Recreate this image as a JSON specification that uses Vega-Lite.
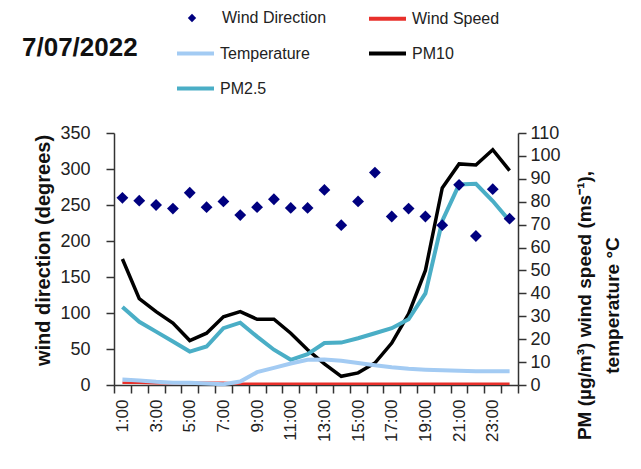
{
  "$schema": "https://vega.github.io/schema/vega-lite/v6.json",
  "width": 404,
  "height": 252,
  "autosize": {"type": "none"},
  "padding": {"left": 114, "top": 133, "right": 123, "bottom": 84},
  "background": "white",
  "config": {"font": "Liberation Sans", "view": {"stroke": null}},
  "title": {"text": "7/07/2022", "anchor": "start", "frame": "group", "dx": -92, "offset": -63, "fontSize": 26, "fontWeight": "bold", "color": "#111", "font": "Liberation Sans"},
  "data": {"values": [
    {"hour": "1:00", "wd": 260, "ws": 1, "temp": 2.4, "pm10": 55, "pm25": 34},
    {"hour": "2:00", "wd": 256, "ws": 1, "temp": 2, "pm10": 37.7, "pm25": 27.6},
    {"hour": "3:00", "wd": 250, "ws": 0.8, "temp": 1.4, "pm10": 32, "pm25": 23.3},
    {"hour": "4:00", "wd": 245, "ws": 0.8, "temp": 1, "pm10": 27, "pm25": 19},
    {"hour": "5:00", "wd": 267, "ws": 1, "temp": 1, "pm10": 19.4, "pm25": 14.6},
    {"hour": "6:00", "wd": 247, "ws": 1, "temp": 0.7, "pm10": 22.6, "pm25": 16.8},
    {"hour": "7:00", "wd": 255, "ws": 1, "temp": 0.3, "pm10": 29.8, "pm25": 24.8},
    {"hour": "8:00", "wd": 236, "ws": 0.5, "temp": 1.5, "pm10": 32, "pm25": 27.2},
    {"hour": "9:00", "wd": 247, "ws": 0.5, "temp": 5.6, "pm10": 28.7, "pm25": 21.1},
    {"hour": "10:00", "wd": 258, "ws": 0.5, "temp": 7.5, "pm10": 28.7, "pm25": 15.4},
    {"hour": "11:00", "wd": 246, "ws": 0.5, "temp": 9.4, "pm10": 22.6, "pm25": 11},
    {"hour": "12:00", "wd": 246, "ws": 0.5, "temp": 11, "pm10": 15.4, "pm25": 13.5},
    {"hour": "13:00", "wd": 271, "ws": 0.5, "temp": 11.1, "pm10": 9.2, "pm25": 18.3},
    {"hour": "14:00", "wd": 222, "ws": 0.5, "temp": 10.6, "pm10": 3.8, "pm25": 18.5},
    {"hour": "15:00", "wd": 255, "ws": 0.5, "temp": 9.6, "pm10": 5.3, "pm25": 20.4},
    {"hour": "16:00", "wd": 295, "ws": 0.5, "temp": 8.6, "pm10": 9.6, "pm25": 22.6},
    {"hour": "17:00", "wd": 234, "ws": 0.5, "temp": 7.7, "pm10": 18.3, "pm25": 24.8},
    {"hour": "18:00", "wd": 245, "ws": 0.5, "temp": 7.1, "pm10": 31, "pm25": 28.7},
    {"hour": "19:00", "wd": 234, "ws": 0.5, "temp": 6.7, "pm10": 50, "pm25": 40},
    {"hour": "20:00", "wd": 222, "ws": 0.5, "temp": 6.4, "pm10": 86, "pm25": 71.6},
    {"hour": "21:00", "wd": 278, "ws": 0.5, "temp": 6.2, "pm10": 96.5, "pm25": 87.5},
    {"hour": "22:00", "wd": 207, "ws": 0.5, "temp": 6, "pm10": 96, "pm25": 87.8},
    {"hour": "23:00", "wd": 272, "ws": 0.5, "temp": 6, "pm10": 102.7, "pm25": 80.3},
    {"hour": "24:00", "wd": 231, "ws": 0.5, "temp": 6, "pm10": 93.6, "pm25": 71.6}
  ]},
  "encoding": {
    "x": {
      "field": "hour", "type": "ordinal", "sort": null,
      "scale": {"type": "band", "paddingInner": 0, "paddingOuter": 0},
      "axis": {
        "title": null, "tickBand": "extent", "labelAngle": 270,
        "labelExpr": "toNumber(split(datum.value, ':')[0]) % 2 == 1 ? datum.value : ''",
        "labelFontSize": 17, "labelColor": "#222", "tickSize": 8, "labelPadding": 6,
        "domainColor": "#333", "tickColor": "#333", "domainWidth": 1.5, "tickWidth": 1.5
      }
    }
  },
  "layer": [
    {
      "encoding": {
        "color": {
          "scale": {"domain": [" ", "Temperature", "PM25", "Wind Speed", "PM10"], "range": ["transparent", "#a3cbf3", "#4aaec6", "#e8302b", "#000000"]},
          "legend": {
            "title": null, "orient": "none", "legendX": 61, "legendY": -135, "columns": 2, "columnPadding": 51, "rowPadding": 6,
            "symbolType": "stroke", "symbolSize": 1369, "symbolStrokeWidth": 4, "labelOffset": 4,
            "labelFontSize": 16, "labelColor": "#222", "labelFont": "Liberation Sans",
            "labelExpr": "datum.value == 'PM25' ? 'PM2.5' : (datum.value == ' ' ? '' : datum.value)"
          }
        }
      },
      "layer": [
        {"mark": {"type": "line", "strokeWidth": 3.5},
         "encoding": {"y": {"field": "pm10", "type": "quantitative", "scale": {"domain": [0, 110], "nice": false},
           "axis": {"orient": "right", "values": [0,10,20,30,40,50,60,70,80,90,100,110], "labelOverlap": false, "grid": false, "tickSize": 8, "labelPadding": 4, "labelFontSize": 18, "labelColor": "#222", "domainColor": "#333", "tickColor": "#333", "domainWidth": 1.5, "tickWidth": 1.5,
             "title": ["PM (µg/m³) wind speed (ms⁻¹),", "temperature °C"], "titleAngle": 270, "titleFontSize": 19, "titleFontWeight": "bold", "titleColor": "#111", "titleLineHeight": 28, "titlePadding": 6, "titleY": 172}},
           "color": {"datum": "PM10"}}},
        {"mark": {"type": "line", "strokeWidth": 4},
         "encoding": {"y": {"field": "pm25", "type": "quantitative",
           "axis": {"orient": "right", "values": [0,10,20,30,40,50,60,70,80,90,100,110], "labelOverlap": false, "grid": false, "tickSize": 8, "labelPadding": 4, "labelFontSize": 18, "labelColor": "#222", "domainColor": "#333", "tickColor": "#333", "domainWidth": 1.5, "tickWidth": 1.5,
             "title": ["PM (µg/m³) wind speed (ms⁻¹),", "temperature °C"], "titleAngle": 270, "titleFontSize": 19, "titleFontWeight": "bold", "titleColor": "#111", "titleLineHeight": 28, "titlePadding": 6, "titleY": 172}},
           "color": {"datum": "PM25"}}},
        {"mark": {"type": "line", "strokeWidth": 2.5},
         "encoding": {"y": {"field": "ws", "type": "quantitative",
           "axis": {"orient": "right", "values": [0,10,20,30,40,50,60,70,80,90,100,110], "labelOverlap": false, "grid": false, "tickSize": 8, "labelPadding": 4, "labelFontSize": 18, "labelColor": "#222", "domainColor": "#333", "tickColor": "#333", "domainWidth": 1.5, "tickWidth": 1.5,
             "title": ["PM (µg/m³) wind speed (ms⁻¹),", "temperature °C"], "titleAngle": 270, "titleFontSize": 19, "titleFontWeight": "bold", "titleColor": "#111", "titleLineHeight": 28, "titlePadding": 6, "titleY": 172}},
           "color": {"datum": "Wind Speed"}}},
        {"mark": {"type": "line", "strokeWidth": 4},
         "encoding": {"y": {"field": "temp", "type": "quantitative",
           "axis": {"orient": "right", "values": [0,10,20,30,40,50,60,70,80,90,100,110], "labelOverlap": false, "grid": false, "tickSize": 8, "labelPadding": 4, "labelFontSize": 18, "labelColor": "#222", "domainColor": "#333", "tickColor": "#333", "domainWidth": 1.5, "tickWidth": 1.5,
             "title": ["PM (µg/m³) wind speed (ms⁻¹),", "temperature °C"], "titleAngle": 270, "titleFontSize": 19, "titleFontWeight": "bold", "titleColor": "#111", "titleLineHeight": 28, "titlePadding": 6, "titleY": 172}},
           "color": {"datum": "Temperature"}}}
      ]
    },
    {
      "mark": {"type": "point", "shape": "diamond", "filled": true, "size": 140, "opacity": 1},
      "encoding": {
        "y": {"field": "wd", "type": "quantitative", "scale": {"domain": [0, 350], "nice": false},
          "axis": {"orient": "left", "values": [0,50,100,150,200,250,300,350], "grid": false, "tickSize": 8, "labelPadding": 16, "labelFontSize": 18, "labelColor": "#222", "domainColor": "#333", "tickColor": "#333", "domainWidth": 1.5, "tickWidth": 1.5,
            "title": "wind direction (degrees)", "titleFontSize": 20, "titleFontWeight": "bold", "titleColor": "#111", "titlePadding": 6, "titleY": 117}},
        "shape": {
          "datum": "Wind Direction",
          "scale": {"domain": ["Wind Direction"], "range": ["diamond"]},
          "legend": {
            "title": null, "orient": "none", "legendX": 70, "legendY": -123,
            "symbolSize": 70, "symbolFillColor": "#00007f", "symbolStrokeWidth": 0, "labelOffset": 22,
            "labelFontSize": 16, "labelColor": "#222", "labelFont": "Liberation Sans"
          }
        },
        "color": {"value": "#00007f"}
      }
    }
  ],
  "resolve": {"scale": {"y": "independent", "color": "independent", "shape": "independent"}}
}
